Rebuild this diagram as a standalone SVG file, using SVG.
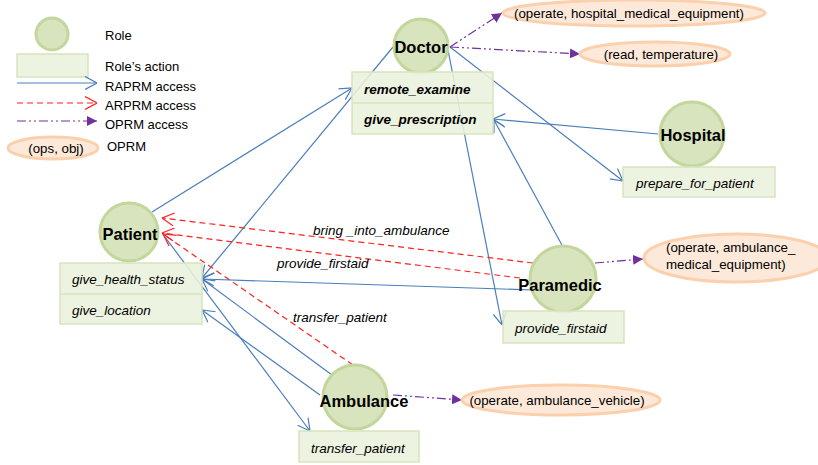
<svg xmlns="http://www.w3.org/2000/svg" width="818" height="465" viewBox="0 0 818 465">
  <style>
    .role { fill: #d7e4bd; stroke: #c3d69b; stroke-width: 3; }
    .act { fill: #ebf1dd; fill-opacity: 0.88; stroke: #d7e4bd; stroke-width: 1.5; }
    .div { stroke: #d7e4bd; stroke-width: 1.5; }
    .oprm { fill: #fde9d9; stroke: #fbd0ad; stroke-width: 3; }
    .ra { fill: none; stroke: #4a7ebb; stroke-width: 1.2; marker-end: url(#openBlue); }
    .ar { fill: none; stroke: #ff2020; stroke-width: 1.2; stroke-dasharray: 6 4; marker-end: url(#openRed); }
    .op { fill: none; stroke: #7030a0; stroke-width: 1.2; stroke-dasharray: 9 3 2 3 2 3; marker-end: url(#fillPurple); }
    text { font-family: "Liberation Sans", Arial, sans-serif; fill: #000; }
    .lg { font-size: 13px; }
    .name { font-size: 16.5px; font-weight: bold; text-anchor: middle; }
    .bi { font-size: 13.5px; font-weight: bold; font-style: italic; }
    .it { font-size: 13.5px; font-style: italic; }
    .ob { font-size: 13.3px; }
    .mid { text-anchor: middle; }
  </style>
  <defs>
    <marker id="openBlue" viewBox="0 0 12 14" refX="12" refY="7" markerWidth="12" markerHeight="14" markerUnits="userSpaceOnUse" orient="auto">
      <path d="M0,0.5 L12,7 L0,13.5" fill="none" stroke="#4a7ebb" stroke-width="1.2"/>
    </marker>
    <marker id="openRed" viewBox="0 0 12 14" refX="12" refY="7" markerWidth="12" markerHeight="14" markerUnits="userSpaceOnUse" orient="auto">
      <path d="M0,0.5 L12,7 L0,13.5" fill="none" stroke="#ff2020" stroke-width="1.2"/>
    </marker>
    <marker id="fillPurple" viewBox="0 0 10 10" refX="10" refY="5" markerWidth="10" markerHeight="10" markerUnits="userSpaceOnUse" orient="auto">
      <path d="M0,0 L10,5 L0,10 Z" fill="#7030a0"/>
    </marker>
  </defs>

  <!-- legend -->
  <g id="legend">
    <circle class="role" cx="52" cy="34" r="16"/>
    <text class="lg" x="105" y="40">Role</text>
    <rect class="act" x="17" y="54" width="71" height="23"/>
    <text class="lg" x="105" y="71">Role’s action</text>
    <path class="ra" d="M17,83 L97,83"/>
    <text class="lg" x="105" y="91">RAPRM access</text>
    <path class="ar" d="M17,103 L97,103"/>
    <text class="lg" x="105" y="110">ARPRM access</text>
    <path class="op" d="M17,121 L97,121"/>
    <text class="lg" x="105" y="129">OPRM access</text>
    <ellipse class="oprm" cx="53" cy="148" rx="45" ry="11"/>
    <text class="ob mid" x="56" y="153">(ops, obj)</text>
    <text class="lg" x="107" y="151">OPRM</text>
  </g>

  <!-- connectors -->
  <g id="connectors">
    <path class="ra" d="M152,212 L352,88"/>
    <path class="ra" d="M393,47 L202,278"/>
    <path class="ra" d="M658,134 L493,119"/>
    <path class="ra" d="M450,47 L623,181"/>
    <path class="ra" d="M448,50 L502,325"/>
    <path class="ra" d="M563,247 L494,120"/>
    <path class="ra" d="M533,290 L202,279"/>
    <path class="ra" d="M332,375 L202,279"/>
    <path class="ra" d="M320,395 L202,310"/>
    <path class="ra" d="M162,233 L310,431"/>

    <path class="ar" d="M533,263 L162,218"/>
    <path class="ar" d="M520,278 L162,233"/>
    <path class="ar" d="M353,365 L163,234"/>

    <path class="op" d="M450,47 L502,13"/>
    <path class="op" d="M450,47 L580,54"/>
    <path class="op" d="M595,263 L643,259"/>
    <path class="op" d="M393,395 L462,400"/>

    <text class="it" x="313" y="235">bring _into_ambulance</text>
    <text class="it" x="277" y="268">provide_firstaid</text>
    <text class="it" x="293" y="322">transfer_patient</text>
  </g>

  <!-- OPRM objects -->
  <g id="oprm-hospital-equipment">
    <ellipse class="oprm" cx="634" cy="13" rx="131" ry="13"/>
    <text class="ob mid" x="629" y="18">(operate, hospital_medical_equipment)</text>
  </g>
  <g id="oprm-temperature">
    <ellipse class="oprm" cx="655" cy="54" rx="75" ry="12"/>
    <text class="ob mid" x="661" y="59">(read, temperature)</text>
  </g>
  <g id="oprm-ambulance-equipment">
    <ellipse class="oprm" cx="736" cy="258" rx="92" ry="24"/>
    <text class="ob" x="666" y="252">(operate, ambulance_</text>
    <text class="ob" x="666" y="269">medical_equipment)</text>
  </g>
  <g id="oprm-ambulance-vehicle">
    <ellipse class="oprm" cx="561" cy="400" rx="99" ry="15"/>
    <text class="ob mid" x="557" y="405">(operate, ambulance_vehicle)</text>
  </g>

  <!-- roles and their actions -->
  <g id="doctor">
    <circle class="role" cx="421" cy="46" r="27"/>
    <text class="name" x="421" y="53">Doctor</text>
    <rect class="act" x="352" y="72" width="141" height="62"/>
    <line class="div" x1="352" y1="103" x2="493" y2="103"/>
    <text class="bi" x="364" y="94">remote_examine</text>
    <text class="bi" x="364" y="124">give_prescription</text>
  </g>

  <g id="hospital">
    <circle class="role" cx="692" cy="134" r="32"/>
    <text class="name" x="693" y="141">Hospital</text>
    <rect class="act" x="623" y="167" width="152" height="30"/>
    <text class="it" x="636" y="188">prepare_for_patient</text>
  </g>

  <g id="patient">
    <circle class="role" cx="129" cy="232" r="29"/>
    <text class="name" x="130" y="240">Patient</text>
    <rect class="act" x="60" y="263" width="142" height="61"/>
    <line class="div" x1="60" y1="294" x2="202" y2="294"/>
    <text class="it" x="72" y="284">give_health_status</text>
    <text class="it" x="72" y="315">give_location</text>
  </g>

  <g id="paramedic">
    <circle class="role" cx="563" cy="279" r="33"/>
    <text class="name" x="560" y="291">Paramedic</text>
    <rect class="act" x="503" y="311" width="121" height="32"/>
    <text class="it" x="515" y="333">provide_firstaid</text>
  </g>

  <g id="ambulance">
    <circle class="role" cx="355" cy="397" r="32"/>
    <text class="name" x="364" y="407">Ambulance</text>
    <rect class="act" x="299" y="431" width="120" height="31"/>
    <text class="it" x="311" y="453">transfer_patient</text>
  </g>
</svg>
